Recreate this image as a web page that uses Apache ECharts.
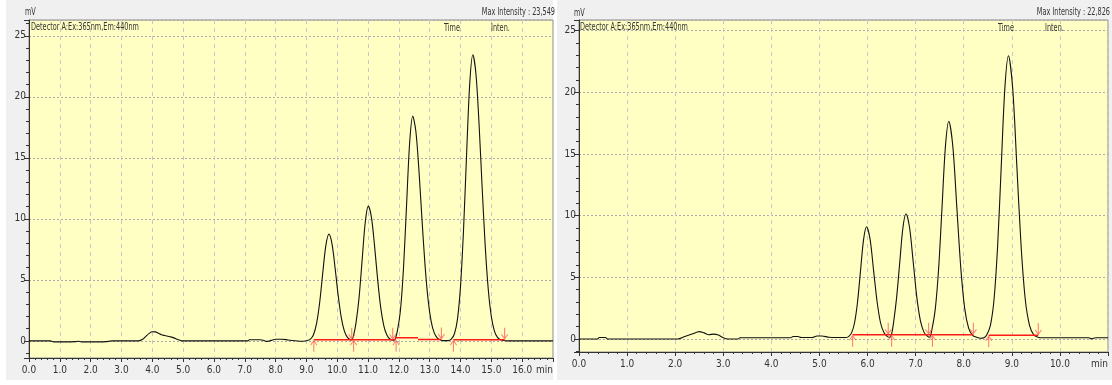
<!DOCTYPE html>
<html>
<head>
<meta charset="utf-8">
<script src="https://cdn.jsdelivr.net/npm/echarts@6/dist/echarts.min.js"></script>
<style>
html,body{margin:0;padding:0;background:#fff;}
#c{width:1112px;height:385px;}
</style>
</head>
<body>
<div id="c"></div>
<script>
// ---- data (time in min, signal in mV) ----
const leftTrace = [
[0,0],[0.7,0],[0.75,-0.05],[0.8,-0.08],[1.2,-0.08],[1.5,-0.06],[1.6,-0.03],[1.7,-0.08],[2.3,-0.08],[2.5,-0.06],[2.6,-0.03],[2.7,0],[3.55,0],
[3.7,0.15],[3.8,0.4],[3.9,0.62],[4.0,0.75],[4.1,0.74],[4.2,0.62],[4.3,0.5],[4.4,0.44],[4.5,0.38],[4.6,0.33],[4.7,0.25],[4.8,0.13],[4.9,0.05],[5.0,0],
[7.1,0],[7.15,0.1],[7.5,0.1],[7.6,0.05],[7.7,-0.04],[7.8,0],[7.9,0.08],[8.0,0.14],[8.2,0.14],[8.4,0.08],[8.6,0.02],[8.9,-0.03],
[9.03,0.03],[9.13,0.15],[9.23,0.51],[9.33,1.43],[9.43,3.15],[9.53,5.56],[9.63,7.81],[9.73,8.75],[9.83,7.96],[9.93,5.99],[10.03,3.74],[10.13,1.93],[10.23,0.82],[10.33,0.29],[10.43,0.1],[10.47,0.08],
[10.53,0.45],[10.61,1.5],[10.71,3.59],[10.81,6.70],[10.91,9.75],[11.01,11.05],[11.11,10.13],[11.21,7.81],[11.31,5.06],[11.41,2.75],[11.51,1.26],[11.61,0.49],[11.71,0.16],[11.81,0.06],[11.87,0.1],
[11.95,0.81],[12.05,2.49],[12.15,5.98],[12.25,11.17],[12.35,16.26],[12.45,18.42],[12.55,17.20],[12.65,14.0],[12.75,9.94],[12.85,6.15],[12.95,3.32],[13.05,1.56],[13.15,0.64],[13.25,0.23],[13.35,0.07],[13.45,0.02],[13.6,0.02],
[13.70,0.15],[13.80,0.57],[13.90,1.77],[14.00,4.49],[14.10,9.25],[14.20,15.51],[14.30,21.15],[14.40,23.45],[14.50,21.90],[14.60,17.82],[14.70,12.65],[14.80,7.83],[14.90,4.22],[15.00,1.99],[15.10,0.81],[15.20,0.29],[15.30,0.09],[15.40,0.03],[15.5,0],[17,0]
];
const rightTrace = [
[0,0],[0.38,0],[0.42,0.12],[0.55,0.12],[0.6,0],[2.05,0],[2.2,0.2],[2.35,0.4],[2.5,0.6],[2.6,0.5],[2.7,0.35],[2.8,0.4],[2.9,0.32],[3.0,0.1],[3.1,0],[3.3,0],[3.35,0.1],
[4.4,0.1],[4.45,0.2],[4.55,0.2],[4.62,0.12],[4.85,0.12],[4.95,0.25],[5.05,0.25],[5.2,0.15],[5.54,0.12],
[5.605,0.2],[5.668,0.5],[5.73,1.32],[5.793,3.04],[5.855,5.58],[5.918,8.08],[5.98,9.1],[6.053,8.08],[6.125,5.58],[6.198,3.04],[6.27,1.32],[6.343,0.5],[6.415,0.2],[6.46,0.15],
[6.5,0.4],[6.54,1.3],[6.605,3.38],[6.67,6.22],[6.735,9.0],[6.80,10.15],[6.875,9.0],[6.95,6.22],[7.025,3.38],[7.10,1.47],[7.175,0.54],[7.25,0.21],[7.29,0.15],
[7.34,0.8],[7.41,2.48],[7.48,5.81],[7.55,10.77],[7.62,15.63],[7.69,17.65],[7.773,15.63],[7.855,10.77],[7.938,5.81],[8.02,2.48],[8.103,0.87],[8.185,0.3],[8.268,0.14],[8.35,0.06],[8.42,0.1],
[8.48,0.35],[8.555,1.11],[8.63,3.2],[8.705,7.54],[8.78,13.99],[8.855,20.31],[8.93,22.95],[9.018,20.31],[9.105,13.99],[9.193,7.54],[9.28,3.2],[9.368,1.11],[9.455,0.35],[9.543,0.15],[9.65,0.1],
[10.6,0.1],[10.65,0.02],[10.75,0.1],[11,0.1]
];
const leftBaselines = [
[[9.24,0.1],[11.88,0.1]],
[[11.88,0.25],[12.62,0.25]],
[[12.62,0.12],[13.38,0.12]],
[[13.77,0.1],[15.43,0.1]]
];
const rightBaselines = [
[[5.69,0.35],[8.2,0.35]],
[[8.52,0.3],[9.55,0.3]]
];
const leftStarts = [[9.24,0.1],[10.53,0.1],[11.91,0.1],[13.77,0.1]];
const leftEnds = [[10.47,0.1],[11.8,0.1],[13.38,0.12],[15.43,0.1]];
const rightStarts = [[5.69,0.35],[6.5,0.35],[7.35,0.35],[8.52,0.3]];
const rightEnds = [[6.43,0.35],[7.27,0.35],[8.2,0.35],[9.55,0.3]];
const leftXRange = [0, 17];
const rightXRange = [0, 11];
const leftYRange = [-1.4, 26.3];
const rightYRange = [-1.05, 25.85];
const titles = {
  unit: 'mV',
  detector: 'Detector A:Ex:365nm,Em:440nm',
  leftMax: 'Max Intensity : 23,549',
  rightMax: 'Max Intensity : 22,826',
  time: 'Time',
  inten: 'Inten.',
  xUnit: 'min'
};

// ---- chart ----
const FONT = "'Liberation Sans Narrow','DejaVu Sans Condensed','Arial Narrow',sans-serif";
const TXT = '#333';
const chart = echarts.init(document.getElementById('c'), null, {renderer: 'canvas'});

const downArrow = 'path://M3.4,0 L4.6,0 L4.6,9.6 L7.2,6.2 L8,7 L4,12 L0,7 L0.8,6.2 L3.4,9.6 Z';
const upArrow = 'path://M3.4,12 L4.6,12 L4.6,2.4 L7.2,5.8 L8,5 L4,0 L0,5 L0.8,5.8 L3.4,2.4 Z';

function xAxisCfg(idx, range) {
  return {
    type: 'value', gridIndex: idx, min: range[0], max: range[1], interval: 1,
    axisLine: {show: true, onZero: false, lineStyle: {color: '#333', width: 1}},
    axisTick: {show: true, length: 4, lineStyle: {color: '#333'}},
    minorTick: {show: true, splitNumber: 5, length: 2, lineStyle: {color: '#333'}},
    axisLabel: {
      color: TXT, fontFamily: FONT, fontSize: 10, margin: 7, hideOverlap: false, alignMaxLabel: 'right',
      formatter: v => (Math.abs(v - range[1]) < 1e-9 ? titles.xUnit : v.toFixed(1))
    },
    splitLine: {show: true, lineStyle: {color: '#C8C8C8', type: [4, 4], width: 1}}
  };
}
function yAxisCfg(idx, range) {
  return {
    type: 'value', gridIndex: idx, min: range[0], max: range[1], splitNumber: 5,
    axisLine: {show: true, onZero: false, lineStyle: {color: '#333', width: 1}},
    axisTick: {show: true, length: 5, lineStyle: {color: '#333'}},
    minorTick: {show: true, splitNumber: 5, length: 3, lineStyle: {color: '#333'}},
    axisLabel: {
      color: TXT, fontFamily: FONT, fontSize: 10, margin: 3,
      formatter: v => (Math.abs(v % 5) < 1e-6 ? String(Math.round(v)) : '')
    },
    splitLine: {show: true, lineStyle: {color: '#AAAAAA', type: [2, 2], width: 1}}
  };
}

const series = [];
function addPanel(idx, trace, baselines, starts, ends) {
  series.push({
    type: 'line', xAxisIndex: idx, yAxisIndex: idx, data: trace,
    showSymbol: false, smooth: 0.3, lineStyle: {color: '#111', width: 1.1}, z: 3, silent: true
  });
  baselines.forEach(seg => series.push({
    type: 'line', xAxisIndex: idx, yAxisIndex: idx, data: seg,
    showSymbol: false, lineStyle: {color: '#FF1A1A', width: 1.5}, z: 4, silent: true
  }));
  series.push({
    type: 'scatter', xAxisIndex: idx, yAxisIndex: idx, data: starts,
    symbol: upArrow, symbolSize: [7, 12], symbolOffset: [0, '50%'],
    itemStyle: {color: '#FF5A5A'}, z: 5, silent: true
  });
  series.push({
    type: 'scatter', xAxisIndex: idx, yAxisIndex: idx, data: ends,
    symbol: downArrow, symbolSize: [7, 12], symbolOffset: [0, '-50%'],
    itemStyle: {color: '#FF5A5A'}, z: 5, silent: true
  });
}
addPanel(0, leftTrace, leftBaselines, leftStarts, leftEnds);
addPanel(1, rightTrace, rightBaselines, rightStarts, rightEnds);

function txt(x, y, s, align) {
  return {type: 'text', x: x, y: y, z: 100, scaleX: 0.66,
    style: {text: s, fill: TXT, font: '11px ' + FONT, textAlign: align || 'left', textVerticalAlign: 'middle'}};
}

chart.setOption({
  backgroundColor: '#ffffff',
  animation: false,
  grid: [
    {left: 29, top: 20, width: 524, height: 338, containLabel: false, outerBoundsMode: 'none', show: true, backgroundColor: '#FFFFC4', borderColor: '#8A8A8A', borderWidth: 1},
    {left: 579, top: 20, width: 529, height: 332, containLabel: false, outerBoundsMode: 'none', show: true, backgroundColor: '#FFFFC4', borderColor: '#8A8A8A', borderWidth: 1}
  ],
  xAxis: [xAxisCfg(0, leftXRange), xAxisCfg(1, rightXRange)],
  yAxis: [yAxisCfg(0, leftYRange), yAxisCfg(1, rightYRange)],
  graphic: [
    {type: 'rect', z: -100, shape: {x: 6, y: 0, width: 547, height: 380}, style: {fill: '#F0F0F0'}, silent: true},
    {type: 'rect', z: -100, shape: {x: 557, y: 0, width: 555, height: 380}, style: {fill: '#F0F0F0'}, silent: true},
    txt(25, 12, titles.unit),
    txt(31, 27, titles.detector),
    txt(555, 12, titles.leftMax, 'right'),
    txt(444, 28, titles.time),
    txt(491, 28, titles.inten),
    txt(574, 13, titles.unit),
    txt(580, 27, titles.detector),
    txt(1110, 12, titles.rightMax, 'right'),
    txt(998, 28, titles.time),
    txt(1045, 28, titles.inten)
  ],
  series: series
});
</script>
</body>
</html>
